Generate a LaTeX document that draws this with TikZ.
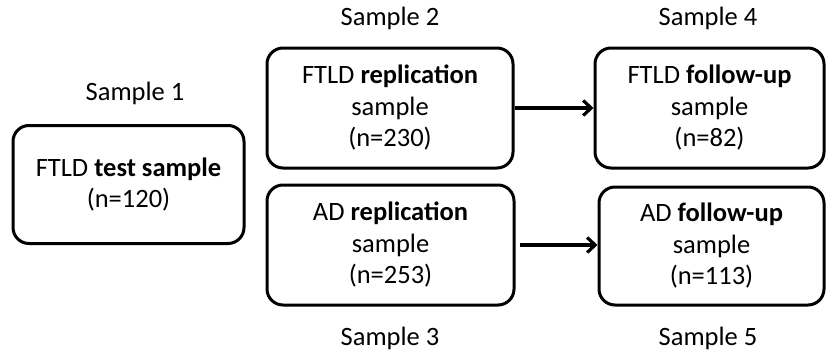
\documentclass[tikz,border=0pt]{standalone}
\usepackage{fontspec}
\setmainfont{Carlito}
\usetikzlibrary{arrows.meta}

\begin{document}
\begin{tikzpicture}[x=1pt, y=-1pt,
    samplebox/.style={draw, line width=3pt, rounded corners=16pt, align=center,
      inner sep=0pt, font=\fontsize{26.5}{31.5}\selectfont},
    samplelabel/.style={font=\fontsize{26.5}{31.5}\selectfont},
    flow/.style={line width=3.2pt, -{Straight Barb[length=8pt, width=15pt, line width=3.2pt]}}]
  \useasboundingbox (0,0) rectangle (826,356);

  % Boxes
  \node[samplebox, minimum width=231pt, minimum height=118pt] (test) at (128.5,184.5)
    {FTLD \textbf{test sample}\\(n=120)};
  \node[samplebox, minimum width=246pt, minimum height=120pt] (ftldrep) at (390,108)
    {FTLD \textbf{replication}\\sample\\(n=230)};
  \node[samplebox, minimum width=247pt, minimum height=120pt] (adrep) at (390.5,245)
    {AD \textbf{replication}\\sample\\(n=253)};
  \node[samplebox, minimum width=229pt, minimum height=120pt] (ftldfu) at (709.5,108)
    {FTLD \textbf{follow-up}\\sample\\(n=82)};
  \node[samplebox, minimum width=225pt, minimum height=118pt] (adfu) at (711.5,246)
    {AD \textbf{follow-up}\\sample\\(n=113)};

  % Labels
  \node[samplelabel] (lab1) at (135,93) {Sample 1};
  \node[samplelabel] (lab2) at (390,18) {Sample 2};
  \node[samplelabel] (lab4) at (708,18) {Sample 4};
  \node[samplelabel] (lab3) at (390,338) {Sample 3};
  \node[samplelabel] (lab5) at (708,338) {Sample 5};

  % Arrows
  \draw[flow] (ftldrep) -- (ftldfu);
  \draw[flow] (adrep.east) ++(4,0) coordinate (adstart) -- (adstart -| adfu.west);

\end{tikzpicture}
\end{document}
